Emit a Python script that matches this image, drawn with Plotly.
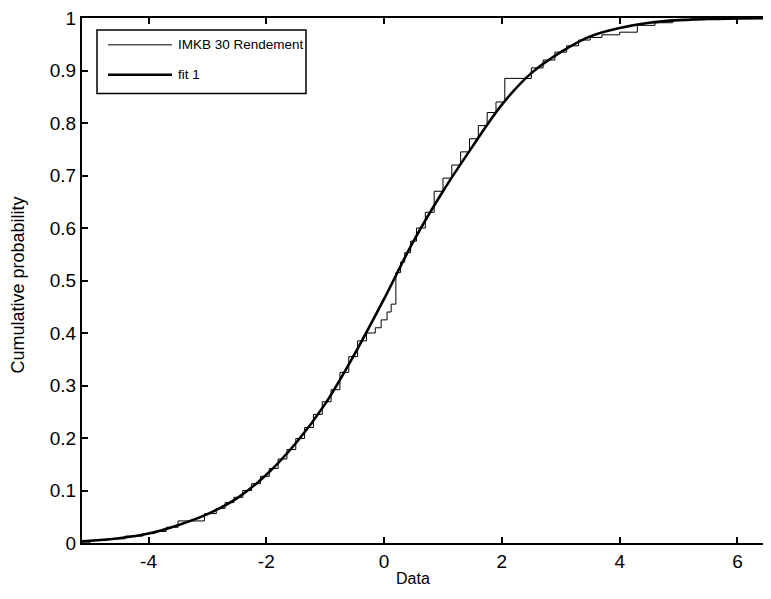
import plotly.graph_objects as go

ecdf_x = [-5.13, -5.0, -4.7, -4.4, -4.1, -3.9, -3.7, -3.5, -3.05, -2.85, -2.7, -2.55,
          -2.4, -2.25, -2.1, -1.95, -1.8, -1.65, -1.5, -1.35, -1.2, -1.05, -0.9, -0.75,
          -0.6, -0.45, -0.3, -0.15, -0.05, 0.05, 0.12, 0.2, 0.28, 0.35, 0.45, 0.55,
          0.7, 0.85, 1.0, 1.15, 1.3, 1.45, 1.6, 1.75, 1.9, 2.05, 2.5, 2.7, 2.9, 3.1,
          3.3, 3.5, 3.7, 4.0, 4.3, 4.6, 4.9, 5.2, 5.5, 6.6]
ecdf_y = [0.0, 0.005, 0.008, 0.013, 0.018, 0.022, 0.030, 0.042, 0.056, 0.066, 0.077, 0.087,
          0.100, 0.113, 0.127, 0.142, 0.160, 0.178, 0.199, 0.220, 0.245, 0.269, 0.292, 0.325,
          0.355, 0.385, 0.400, 0.410, 0.425, 0.440, 0.455, 0.515, 0.535, 0.553, 0.575, 0.600,
          0.630, 0.670, 0.695, 0.720, 0.745, 0.770, 0.795, 0.820, 0.840, 0.885, 0.905, 0.920, 0.935, 0.947,
          0.958, 0.963, 0.968, 0.973, 0.986, 0.991, 0.995, 0.998, 1.0, 1.0]

# Fitted CDF ("fit 1")
fit_x = [-5.13, -4.5, -4.0, -3.5, -3.0, -2.5, -2.0, -1.5, -1.0, -0.5, 0.0, 0.5, 1.0,
         1.5, 2.0, 2.5, 3.0, 3.5, 4.0, 4.5, 5.0, 5.5, 6.0, 6.6]
fit_y = [0.003, 0.009, 0.018, 0.034, 0.055, 0.085, 0.130, 0.190, 0.265, 0.360, 0.465, 0.575,
         0.670, 0.755, 0.835, 0.895, 0.935, 0.965, 0.981, 0.991, 0.996, 0.998, 0.999, 1.0]

x_ticks = [-4, -2, 0, 2, 4, 6]
x_tick_labels = ["-4", "-2", "0", "2", "4", "6"]
y_ticks = [0, 0.1, 0.2, 0.3, 0.4, 0.5, 0.6, 0.7, 0.8, 0.9, 1]
y_tick_labels = ["0", "0.1", "0.2", "0.3", "0.4", "0.5", "0.6", "0.7", "0.8", "0.9", "1"]
legend_labels = ["IMKB 30 Rendement", "fit 1"]

FONT = "Liberation Sans, Arial, Helvetica, sans-serif"

fig = go.Figure()
fig.add_trace(go.Scatter(x=ecdf_x, y=ecdf_y, mode="lines", line=dict(color="black", width=1, shape="hv"),
                         name=legend_labels[0], showlegend=False))
fig.add_trace(go.Scatter(x=fit_x, y=fit_y, mode="lines", line=dict(color="black", width=2.6, shape="spline"),
                         name=legend_labels[1], showlegend=False))

# The page body has an 8px margin; the figure is sized to fill the rest of the window.
OFF = 8
W, H = 771 - OFF, 599 - OFF
PL, PR, PT, PB = 82, 771, 15, 543          # plot area in window pixels
L, T = PL - OFF, PT - OFF
R, B = (OFF + W) - PR, (OFF + H) - PB
pw, ph = PR - PL, PB - PT

def px(xp):
    return (xp - PL) / pw

def py(yp):
    return (PB - yp) / ph

fig.update_layout(
    width=W, height=H,
    margin=dict(l=L, r=R, t=T, b=B, pad=0),
    paper_bgcolor="white", plot_bgcolor="white",
    xaxis=dict(range=[-5.13, 6.57], tickvals=x_ticks, ticktext=x_tick_labels, ticks="inside", ticklen=6,
               tickwidth=1.5, tickcolor="black", showline=True, linecolor="black", linewidth=2,
               mirror="ticks", showgrid=False, zeroline=False, ticklabeloverflow="allow",
               tickfont=dict(family=FONT, size=19, color="black"), ticklabelstandoff=0),
    yaxis=dict(range=[0, 1], tickvals=y_ticks, ticktext=y_tick_labels, ticks="inside", ticklen=6,
               tickwidth=1.5, tickcolor="black", showline=True, linecolor="black", linewidth=2,
               showgrid=False, zeroline=False, ticklabeloverflow="allow",
               tickfont=dict(family=FONT, size=19, color="black"), ticklabelstandoff=0),
    showlegend=False,
)

# Axis titles
fig.add_annotation(text="Data", xref="paper", yref="paper", x=px(413), y=py(579), showarrow=False,
                   font=dict(family=FONT, size=16, color="black"), xanchor="center", yanchor="middle")
fig.add_annotation(text="Cumulative probability", xref="paper", yref="paper", x=px(18), y=py(284),
                   showarrow=False, textangle=-90,
                   font=dict(family=FONT, size=18, color="black"), xanchor="center", yanchor="middle")

# Legend box drawn manually
fig.add_shape(type="rect", xref="paper", yref="paper", x0=px(97), x1=px(306), y0=py(91), y1=py(27),
              line=dict(color="black", width=1.5), fillcolor="white", layer="above")
fig.add_shape(type="line", xref="paper", yref="paper", x0=px(108), x1=px(172), y0=py(42), y1=py(42),
              line=dict(color="black", width=1), layer="above")
fig.add_shape(type="line", xref="paper", yref="paper", x0=px(108), x1=px(172), y0=py(72), y1=py(72),
              line=dict(color="black", width=2.6), layer="above")
fig.add_annotation(text=legend_labels[0], xref="paper", yref="paper", x=px(176), y=py(42), showarrow=False,
                   font=dict(family=FONT, size=13.5, color="black"), xanchor="left", yanchor="middle")
fig.add_annotation(text=legend_labels[1], xref="paper", yref="paper", x=px(176), y=py(72), showarrow=False,
                   font=dict(family=FONT, size=13.5, color="black"), xanchor="left", yanchor="middle")

fig.write_html("out.html")
